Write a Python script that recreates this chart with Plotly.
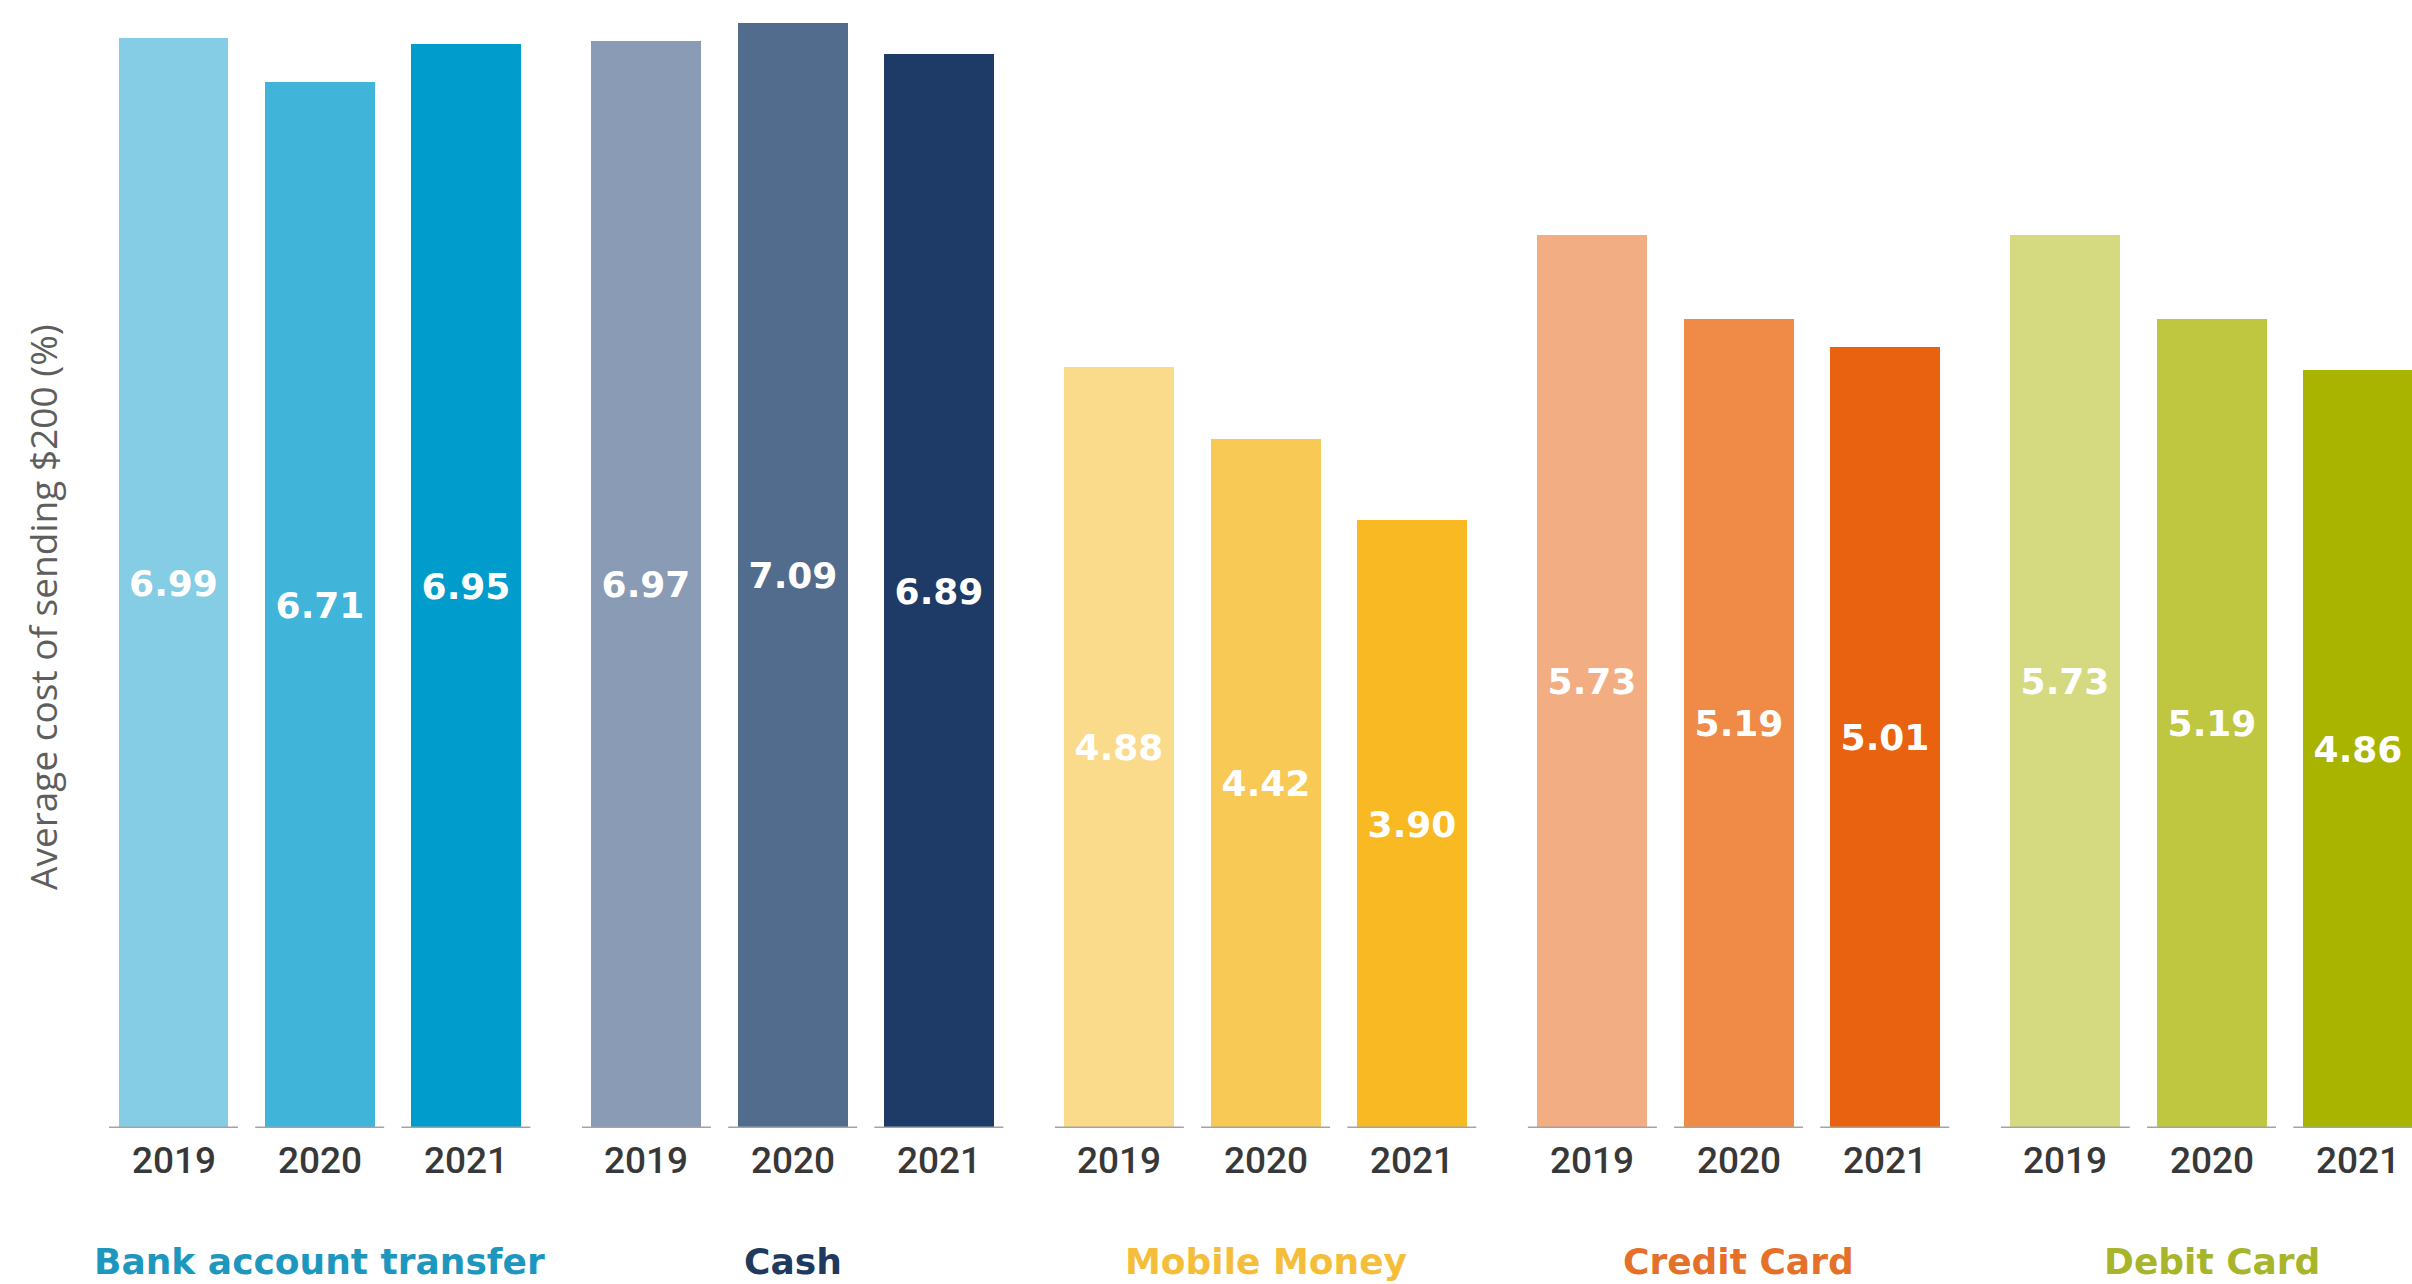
import plotly.graph_objects as go

# Average cost of sending $200, by payment instrument and year
categories = ["Bank account transfer", "Cash", "Mobile Money", "Credit Card", "Debit Card"]
years = ["2019", "2020", "2021"]
bank_transfer = [6.99, 6.71, 6.95]
cash = [6.97, 7.09, 6.89]
mobile_money = [4.88, 4.42, 3.90]
credit_card = [5.73, 5.19, 5.01]
debit_card = [5.73, 5.19, 4.86]
series = [bank_transfer, cash, mobile_money, credit_card, debit_card]

bar_colors = [
    ["#84CDE5", "#40B4D9", "#009CCB"],
    ["#8A9CB5", "#526C8E", "#1E3A66"],
    ["#FADB8C", "#F8C955", "#F8B922"],
    ["#F3AD83", "#EF8A47", "#E8620F"],
    ["#D5DA80", "#BFC63F", "#A8B400"],
]
label_colors = ["#1E97BE", "#1F3A5F", "#F5BE3A", "#E5702A", "#A8B52A"]

# Geometry (pixels / axis units)
W, H = 2412, 1284
PLOT_BOTTOM = 1128
X_PX = 146.2          # pixels per x unit (one bar step)
FIRST_CENTER = 173.5  # pixel x of first bar centre
Y_PX = 155.9          # pixels per percentage point
GROUP_STEP = 3.235
BAR_W = 0.752
LINE_EXT = 0.065

xs, ys, cols, texts = [], [], [], []
for g, vals in enumerate(series):
    for i, v in enumerate(vals):
        xs.append(g * GROUP_STEP + i)
        ys.append(v)
        cols.append(bar_colors[g][i])
        texts.append(f"{v:.2f}")

fig = go.Figure(
    go.Bar(
        x=xs,
        y=ys,
        width=BAR_W,
        marker=dict(color=cols, line=dict(width=0)),
        text=texts,
        textposition="inside",
        insidetextanchor="middle",
        textangle=0,
        textfont=dict(family="DejaVu Sans", size=36, color="white", weight="bold"),
        hoverinfo="skip",
        showlegend=False,
    )
)

plot_h = PLOT_BOTTOM


def paper_y(px):
    return (PLOT_BOTTOM - px) / plot_h


shapes, annotations = [], []
for xc, yr_idx in zip(xs, [i for _ in series for i in range(3)]):
    shapes.append(dict(
        type="line", xref="x", yref="y",
        x0=xc - BAR_W / 2 - LINE_EXT, x1=xc + BAR_W / 2 + LINE_EXT, y0=0, y1=0,
        line=dict(color="#A3A3A3", width=3), layer="above",
    ))
    annotations.append(dict(
        x=xc, y=paper_y(1160), xref="x", yref="paper",
        text=years[yr_idx], showarrow=False, xanchor="center", yanchor="middle",
        font=dict(family="Roboto", size=37, color="#383838", weight=500),
    ))

for g, name in enumerate(categories):
    annotations.append(dict(
        x=g * GROUP_STEP + 1, y=paper_y(1261), xref="x", yref="paper",
        text=name, showarrow=False, xanchor="center", yanchor="middle",
        font=dict(family="DejaVu Sans", size=36, color=label_colors[g], weight="bold"),
    ))

annotations.append(dict(
    x=42 / W, y=paper_y(607), xref="paper", yref="paper",
    text="Average cost of sending $200 (%)", showarrow=False, textangle=-90,
    xanchor="center", yanchor="middle",
    font=dict(family="Open Sans", size=37, color="#5E5E5E"),
))

fig.update_layout(
    width=W, height=H,
    margin=dict(l=0, r=0, t=0, b=H - PLOT_BOTTOM, pad=0),
    paper_bgcolor="white", plot_bgcolor="white",
    xaxis=dict(range=[-FIRST_CENTER / X_PX, (W - FIRST_CENTER) / X_PX],
               visible=False, fixedrange=True),
    yaxis=dict(range=[0, PLOT_BOTTOM / Y_PX], visible=False, fixedrange=True),
    shapes=shapes,
    annotations=annotations,
    bargap=0,
)

fig.write_html("out.html", config={"displayModeBar": False})
